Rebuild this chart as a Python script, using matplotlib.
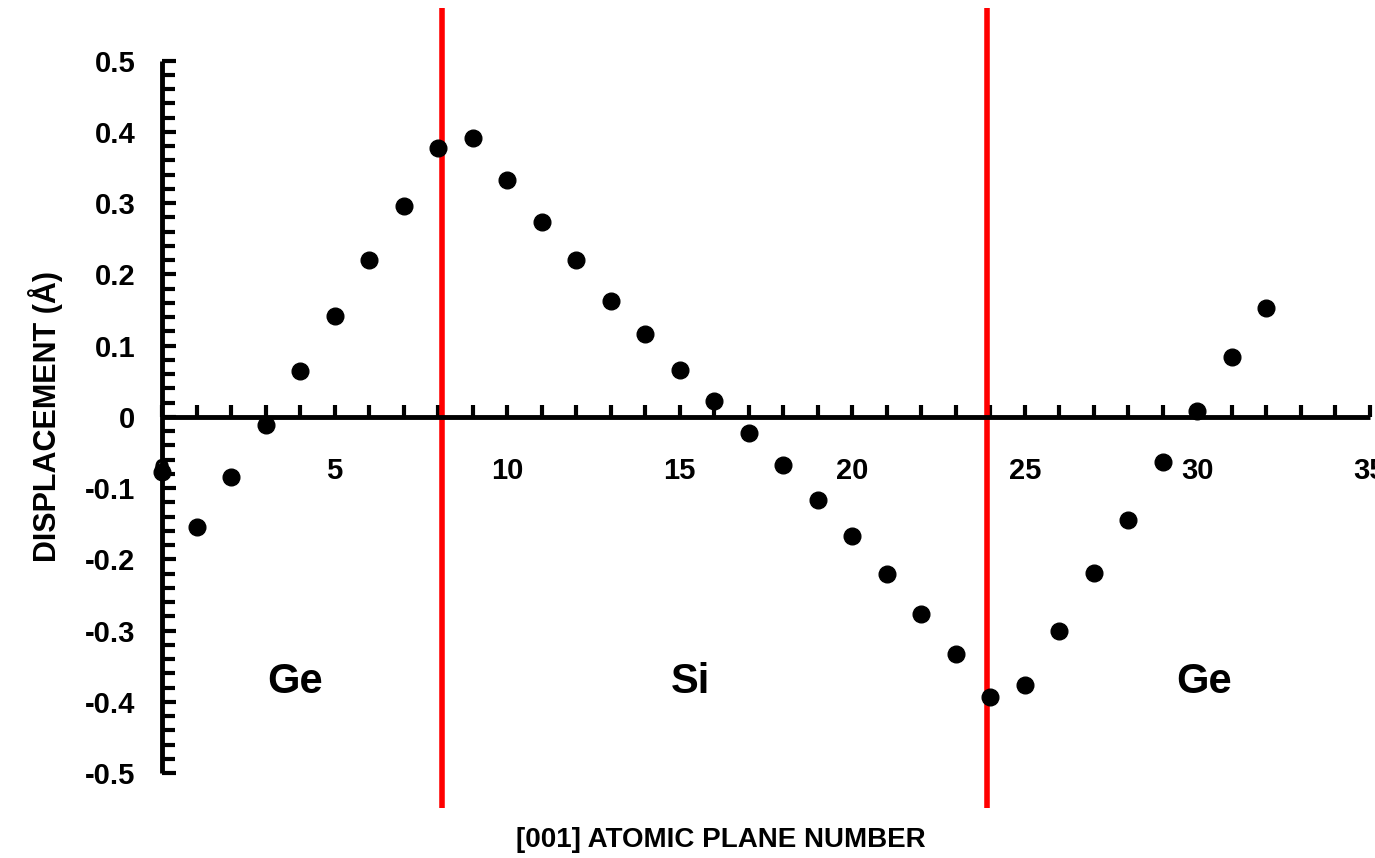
import numpy as np
import matplotlib.pyplot as plt
from matplotlib.ticker import MultipleLocator, FixedLocator, FuncFormatter

plt.rcParams['font.family'] = ['Liberation Sans', 'DejaVu Sans']
plt.rcParams['font.weight'] = 'bold'

# displacement of each (001) plane
plane = np.arange(33)
displacement = [-0.077, -0.155, -0.085, -0.011, 0.065, 0.141, 0.220, 0.296, 0.377, 0.391,
                0.332, 0.273, 0.220, 0.163, 0.116, 0.066, 0.022, -0.023, -0.068, -0.117,
                -0.167, -0.221, -0.277, -0.333, -0.393, -0.376, -0.300, -0.219, -0.145, -0.064,
                0.008, 0.084, 0.153]

# Ge/Si interfaces
interfaces = [8.1, 23.9]
regions = ['Ge', 'Si', 'Ge']

fig = plt.figure(figsize=(13.75, 8.58), dpi=100)
ax = fig.add_axes([162 / 1375, 50 / 858, 1208 / 1375, 800 / 858])

ax.set_xlim(0, 35)
ax.set_ylim(-0.549, 0.574)

for sp in ['top', 'right']:
    ax.spines[sp].set_visible(False)
ax.spines['bottom'].set_position(('data', 0))
ax.spines['bottom'].set_bounds(0, 35)
ax.spines['left'].set_bounds(-0.5, 0.5)
for sp in ['left', 'bottom']:
    ax.spines[sp].set_linewidth(3.5)
    ax.spines[sp].set_capstyle('butt')

ax.xaxis.set_major_locator(MultipleLocator(5))
ax.xaxis.set_minor_locator(MultipleLocator(1))
ax.yaxis.set_major_locator(FixedLocator(np.round(np.arange(-0.5, 0.51, 0.1), 2)))
ax.yaxis.set_minor_locator(FixedLocator(np.round(np.arange(-0.5, 0.51, 0.02), 2)))

def fmt(v, pos):
    v = round(v, 2)
    if v == 0:
        return '0'
    return f'{v:g}'

ax.yaxis.set_major_formatter(FuncFormatter(fmt))
ax.xaxis.set_major_formatter(FuncFormatter(lambda v, p: f'{int(round(v))}'))

ax.tick_params(axis='x', which='both', direction='in', length=9, width=3,
               labelsize=21, pad=29)
ax.tick_params(axis='y', which='major', direction='in', length=10, width=3,
               labelsize=21, pad=19)
ax.tick_params(axis='y', which='minor', direction='in', length=9, width=3)

for xv in interfaces:
    ax.axvline(xv, color='#ff0000', linewidth=4, zorder=2)

ax.plot(plane, displacement, 'o', color='black', markersize=12,
        clip_on=False, zorder=4)

for name, xv in zip(regions, [3.85, 15.3, 30.2]):
    ax.text(xv, -0.372, name, fontsize=30, fontweight='bold',
            ha='center', va='center')

fig.text(721 / 1375, 1 - 840 / 858, '[001] ATOMIC PLANE NUMBER',
         fontsize=20, fontweight='bold', ha='center', va='center')
fig.text(46 / 1375, 1 - 417 / 858, 'DISPLACEMENT (Å)', rotation=90,
         fontsize=22, fontweight='bold', ha='center', va='center')

fig.savefig('out.png', dpi=100)
